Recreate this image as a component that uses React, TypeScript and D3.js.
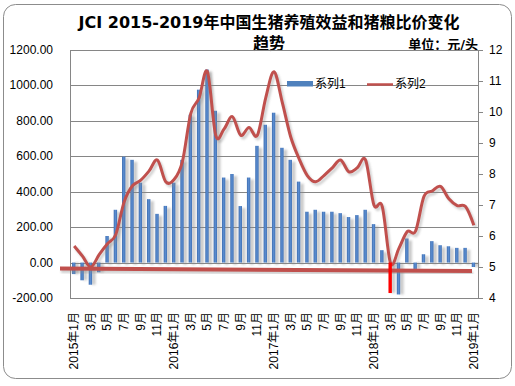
import React from 'react';
import * as d3 from 'd3';

// months 2015-01 .. 2019-01
const months: string[] = [];
for (let y = 2015; y <= 2019; y++) {
  for (let m = 1; m <= 12; m++) {
    if (y === 2019 && m > 1) break;
    months.push(m === 1 ? `${y}年${m}月` : `${m}月`);
  }
}

// 系列1: 生猪养殖效益 (元/头)
const series1 = [
  -65, -100, -125, -55, 150, 298, 598, 580, 451, 358, 275, 320,
  451, 580, 835, 976, 1090, 857, 480, 500, 319, 480, 659, 778,
  846, 648, 580, 457, 287, 298, 287, 287, 279, 257, 268, 298,
  217, 70, -172, -180, 136, -36, 47, 121, 98, 92, 83, 83,
  -25,
];

// 系列2: 猪粮比价
const series2 = [
  5.68, 5.35, 5.0, 5.4, 5.75, 6.05, 7.1, 7.62, 7.8, 8.1, 8.45, 7.75,
  7.82, 8.4, 9.95, 10.45, 11.3, 9.25, 9.45, 9.85, 9.25, 9.5, 9.25, 10.45,
  11.3, 10.3, 9.2, 8.5, 7.95, 7.75, 7.95, 8.2, 8.45, 8.07, 8.2, 8.45,
  7.0, 6.95, 5.12, 5.6, 6.14, 6.16, 7.27, 7.45, 7.6, 7.2, 6.98, 6.95,
  6.35,
];

const leftTicks = [-200, 0, 200, 400, 600, 800, 1000, 1200];
const rightTicks = [4, 5, 6, 7, 8, 9, 10, 11, 12];
const highlightIndex = 38; // 2018年3月

const W = 515;
const H = 386;
const plot = { left: 70, right: 478, top: 50, bottom: 298 };

const numFont = '"Liberation Sans", Arial, sans-serif';
const cjkFont = '"Liberation Sans", "Noto Sans CJK SC", sans-serif';
const titleFont = '"DejaVu Sans", "Noto Sans CJK SC", sans-serif';

export default function App() {
  const idx = months.map((_, i) => i);
  const x = d3.scaleBand<number>().domain(idx).range([plot.left, plot.right]).padding(0);
  const yL = d3.scaleLinear().domain([-200, 1200]).range([plot.bottom, plot.top]);
  const yR = d3.scaleLinear().domain([4, 12]).range([plot.bottom, plot.top]);
  const cx = (i: number) => (x(i) as number) + x.bandwidth() / 2;
  const barW = 3.4;

  const line = d3.line<number>()
    .x((_, i) => cx(i))
    .y(d => yR(d))
    .curve(d3.curveCardinal.tension(0));

  const bar = (v: number, i: number, shadow: boolean) => {
    const y0 = yL(0);
    const y1 = yL(v);
    const top = Math.min(y0, y1);
    const h = Math.abs(y1 - y0);
    if (shadow) {
      return <rect key={'s' + i} x={cx(i) - barW / 2 + 2.5} y={top + (v > 0 ? 2 : 0)} width={4} height={h}
        fill="#8a8a8a" opacity={0.45} filter="url(#blur)" />;
    }
    return <rect key={'b' + i} x={cx(i) - barW / 2 - 0.4} y={top} width={barW} height={h}
      fill={i === highlightIndex ? '#FF0000' : 'url(#barGrad)'} />;
  };

  return (
    <svg width={W} height={H} style={{ position: 'absolute', left: 0, top: 0, background: '#fff' }}>
      <defs>
        <linearGradient id="barGrad" x1="0" x2="1" y1="0" y2="0">
          <stop offset="0" stopColor="#3d6db0" />
          <stop offset="0.5" stopColor="#5b8dd0" />
          <stop offset="1" stopColor="#3f70b4" />
        </linearGradient>
        <filter id="blur" x="-50%" y="-10%" width="200%" height="120%">
          <feGaussianBlur stdDeviation="0.9" />
        </filter>
      </defs>

      <rect x={3.5} y={4.5} width={508} height={374} rx={12} fill="#fff" stroke="#8c8c8c" />

      {/* title */}
      <text x={269} y={28} textAnchor="middle" fontFamily={titleFont} fontWeight="bold" fontSize={16}>
        JCI 2015-2019年中国生猪养殖效益和猪粮比价变化
      </text>
      <text x={269} y={49} textAnchor="middle" fontFamily={titleFont} fontWeight="bold" fontSize={16}>趋势</text>
      <text x={478} y={49} textAnchor="end" fontFamily={titleFont} fontWeight="bold" fontSize={13}>单位：元/头</text>

      {/* grid */}
      {leftTicks.map(t => (
        <line key={'g' + t} x1={plot.left} x2={plot.right} y1={Math.round(yL(t)) + 0.5} y2={Math.round(yL(t)) + 0.5}
          stroke="#868686" />
      ))}
      <line x1={plot.left + 0.5} x2={plot.left + 0.5} y1={plot.top} y2={plot.bottom} stroke="#868686" />
      <line x1={plot.right + 0.5} x2={plot.right + 0.5} y1={plot.top} y2={plot.bottom} stroke="#868686" />
      {rightTicks.map(t => (
        <line key={'rt' + t} x1={plot.right} x2={plot.right + 5} y1={Math.round(yR(t)) + 0.5} y2={Math.round(yR(t)) + 0.5}
          stroke="#868686" />
      ))}

      {/* axis labels */}
      {leftTicks.map(t => (
        <text key={'l' + t} x={53} y={yL(t)} textAnchor="end" dominantBaseline="central"
          fontFamily={numFont} fontSize={12}>{t.toFixed(2)}</text>
      ))}
      {rightTicks.map(t => (
        <text key={'r' + t} x={489} y={yR(t)} dominantBaseline="central"
          fontFamily={numFont} fontSize={12}>{t}</text>
      ))}
      {months.map((m, i) => i % 2 === 0 ? (
        <text key={'x' + i} transform={`translate(${cx(i)},312) rotate(-90)`} textAnchor="end"
          dominantBaseline="central" fontFamily={cjkFont} fontSize={12}>{m}</text>
      ) : null)}

      {/* bars */}
      {series1.map((v, i) => bar(v, i, true))}
      {series1.map((v, i) => i === highlightIndex ? null : bar(v, i, false))}

      {/* line series */}
      <path d={line(series2) || ''} fill="none" stroke="#8a8a8a" strokeWidth={3} opacity={0.4}
        transform="translate(2,2.5)" filter="url(#blur)" />
      <path d={line(series2) || ''} fill="none" stroke="#C0504D" strokeWidth={3} strokeLinejoin="round" />

      {/* thick annotation line */}
      <line x1={61} y1={271} x2={473} y2={273.5} stroke="#8a8a8a" strokeWidth={4} opacity={0.4} filter="url(#blur)" />
      <line x1={60} y1={268.5} x2={472} y2={271} stroke="#C0504D" strokeWidth={4} />

      {bar(series1[highlightIndex], highlightIndex, false)}

      {/* legend */}
      <rect x={287} y={81} width={26} height={5.5} fill="#4F81BD" />
      <text x={315} y={84} dominantBaseline="central" fontFamily={cjkFont} fontSize={12}>系列1</text>
      <line x1={367} x2={393} y1={84.5} y2={84.5} stroke="#C0504D" strokeWidth={2.5} />
      <text x={395} y={84} dominantBaseline="central" fontFamily={cjkFont} fontSize={12}>系列2</text>
    </svg>
  );
}
